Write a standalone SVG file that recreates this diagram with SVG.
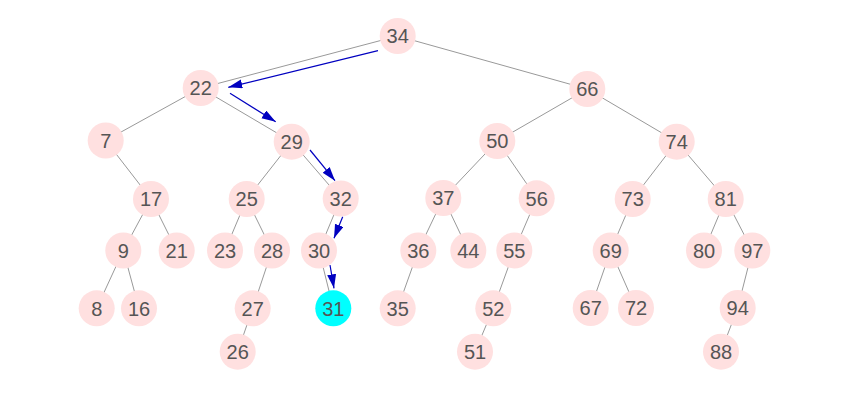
<svg xmlns="http://www.w3.org/2000/svg" width="852" height="415" viewBox="0 0 852 415">
<style>
.e{stroke:#999;stroke-width:1;fill:none}
.a{stroke:#0000c0;stroke-width:1.2;fill:none;marker-end:url(#ah)}
.n circle{fill:#ffe0e0}
.n text{font-family:"Liberation Sans",Arial,sans-serif;font-size:20px;fill:#555;text-anchor:middle}
#n31 circle{fill:#00ffff}
</style>
<defs>
<marker id="ah" markerUnits="userSpaceOnUse" markerWidth="15" markerHeight="10" refX="14" refY="4.5" orient="auto">
<path d="M0,0 L14,4.5 L0,9 z" fill="#0000c0"/>
</marker>
</defs>
<rect width="852" height="415" fill="#fff"/>
<g id="edges">
<line class="e" x1="397.7" y1="36" x2="200.7" y2="88"/>
<line class="e" x1="397.7" y1="36" x2="587.3" y2="89"/>
<line class="e" x1="200.7" y1="88" x2="105.7" y2="140.5"/>
<line class="e" x1="200.7" y1="88" x2="291.7" y2="141.7"/>
<line class="e" x1="105.7" y1="140.5" x2="151" y2="199"/>
<line class="e" x1="151" y1="199" x2="123.3" y2="250.5"/>
<line class="e" x1="151" y1="199" x2="176.7" y2="250.5"/>
<line class="e" x1="123.3" y1="250.5" x2="96.7" y2="308.3"/>
<line class="e" x1="123.3" y1="250.5" x2="139" y2="308.3"/>
<line class="e" x1="291.7" y1="141.7" x2="246.7" y2="199"/>
<line class="e" x1="291.7" y1="141.7" x2="340.7" y2="198.5"/>
<line class="e" x1="246.7" y1="199" x2="225" y2="250.5"/>
<line class="e" x1="246.7" y1="199" x2="272" y2="250.5"/>
<line class="e" x1="272" y1="250.5" x2="252.7" y2="308.3"/>
<line class="e" x1="252.7" y1="308.3" x2="237.7" y2="351.7"/>
<line class="e" x1="340.7" y1="198.5" x2="319" y2="250.5"/>
<line class="e" x1="319" y1="250.5" x2="333.3" y2="308.3"/>
<line class="e" x1="587.3" y1="89" x2="497.3" y2="141"/>
<line class="e" x1="587.3" y1="89" x2="676.7" y2="141.7"/>
<line class="e" x1="497.3" y1="141" x2="443.3" y2="198"/>
<line class="e" x1="497.3" y1="141" x2="536.7" y2="198.3"/>
<line class="e" x1="443.3" y1="198" x2="418.3" y2="250.5"/>
<line class="e" x1="443.3" y1="198" x2="468.3" y2="250.5"/>
<line class="e" x1="418.3" y1="250.5" x2="397.7" y2="308.3"/>
<line class="e" x1="536.7" y1="198.3" x2="514.3" y2="250.5"/>
<line class="e" x1="514.3" y1="250.5" x2="493.3" y2="308.3"/>
<line class="e" x1="493.3" y1="308.3" x2="475" y2="351.7"/>
<line class="e" x1="676.7" y1="141.7" x2="632.7" y2="199"/>
<line class="e" x1="676.7" y1="141.7" x2="725.7" y2="199"/>
<line class="e" x1="632.7" y1="199" x2="610.7" y2="250.5"/>
<line class="e" x1="610.7" y1="250.5" x2="590.7" y2="308"/>
<line class="e" x1="610.7" y1="250.5" x2="636" y2="308"/>
<line class="e" x1="725.7" y1="199" x2="704" y2="250.5"/>
<line class="e" x1="725.7" y1="199" x2="752.3" y2="250.5"/>
<line class="e" x1="752.3" y1="250.5" x2="737.7" y2="308"/>
<line class="e" x1="737.7" y1="308" x2="721" y2="351.7"/>
</g>
<g id="path-arrows">
<line class="a" x1="378" y1="50.7" x2="228.3" y2="87.3"/>
<line class="a" x1="230" y1="93.3" x2="275.7" y2="121.7"/>
<line class="a" x1="310" y1="150" x2="335" y2="180.7"/>
<line class="a" x1="342.7" y1="216.7" x2="334" y2="238.3"/>
<line class="a" x1="330" y1="265" x2="334" y2="288.3"/>
</g>
<g id="n34" class="n"><circle cx="397.7" cy="36" r="18"/><text x="397.7" y="43.2">34</text></g>
<g id="n22" class="n"><circle cx="200.7" cy="88" r="18"/><text x="200.7" y="95.2">22</text></g>
<g id="n66" class="n"><circle cx="587.3" cy="89" r="18"/><text x="587.3" y="96.2">66</text></g>
<g id="n7" class="n"><circle cx="105.7" cy="140.5" r="18"/><text x="105.7" y="147.7">7</text></g>
<g id="n29" class="n"><circle cx="291.7" cy="141.7" r="18"/><text x="291.7" y="148.9">29</text></g>
<g id="n50" class="n"><circle cx="497.3" cy="141" r="18"/><text x="497.3" y="148.2">50</text></g>
<g id="n74" class="n"><circle cx="676.7" cy="141.7" r="18"/><text x="676.7" y="148.9">74</text></g>
<g id="n17" class="n"><circle cx="151" cy="199" r="18"/><text x="151" y="206.2">17</text></g>
<g id="n25" class="n"><circle cx="246.7" cy="199" r="18"/><text x="246.7" y="206.2">25</text></g>
<g id="n32" class="n"><circle cx="340.7" cy="198.5" r="18"/><text x="340.7" y="205.7">32</text></g>
<g id="n37" class="n"><circle cx="443.3" cy="198" r="18"/><text x="443.3" y="205.2">37</text></g>
<g id="n56" class="n"><circle cx="536.7" cy="198.3" r="18"/><text x="536.7" y="205.5">56</text></g>
<g id="n73" class="n"><circle cx="632.7" cy="199" r="18"/><text x="632.7" y="206.2">73</text></g>
<g id="n81" class="n"><circle cx="725.7" cy="199" r="18"/><text x="725.7" y="206.2">81</text></g>
<g id="n9" class="n"><circle cx="123.3" cy="250.5" r="18"/><text x="123.3" y="257.7">9</text></g>
<g id="n21" class="n"><circle cx="176.7" cy="250.5" r="18"/><text x="176.7" y="257.7">21</text></g>
<g id="n23" class="n"><circle cx="225" cy="250.5" r="18"/><text x="225" y="257.7">23</text></g>
<g id="n28" class="n"><circle cx="272" cy="250.5" r="18"/><text x="272" y="257.7">28</text></g>
<g id="n30" class="n"><circle cx="319" cy="250.5" r="18"/><text x="319" y="257.7">30</text></g>
<g id="n36" class="n"><circle cx="418.3" cy="250.5" r="18"/><text x="418.3" y="257.7">36</text></g>
<g id="n44" class="n"><circle cx="468.3" cy="250.5" r="18"/><text x="468.3" y="257.7">44</text></g>
<g id="n55" class="n"><circle cx="514.3" cy="250.5" r="18"/><text x="514.3" y="257.7">55</text></g>
<g id="n69" class="n"><circle cx="610.7" cy="250.5" r="18"/><text x="610.7" y="257.7">69</text></g>
<g id="n80" class="n"><circle cx="704" cy="250.5" r="18"/><text x="704" y="257.7">80</text></g>
<g id="n97" class="n"><circle cx="752.3" cy="250.5" r="18"/><text x="752.3" y="257.7">97</text></g>
<g id="n8" class="n"><circle cx="96.7" cy="308.3" r="18"/><text x="96.7" y="315.5">8</text></g>
<g id="n16" class="n"><circle cx="139" cy="308.3" r="18"/><text x="139" y="315.5">16</text></g>
<g id="n27" class="n"><circle cx="252.7" cy="308.3" r="18"/><text x="252.7" y="315.5">27</text></g>
<g id="n31" class="n"><circle cx="333.3" cy="308.3" r="18"/><text x="333.3" y="315.5">31</text></g>
<g id="n35" class="n"><circle cx="397.7" cy="308.3" r="18"/><text x="397.7" y="315.5">35</text></g>
<g id="n52" class="n"><circle cx="493.3" cy="308.3" r="18"/><text x="493.3" y="315.5">52</text></g>
<g id="n67" class="n"><circle cx="590.7" cy="308" r="18"/><text x="590.7" y="315.2">67</text></g>
<g id="n72" class="n"><circle cx="636" cy="308" r="18"/><text x="636" y="315.2">72</text></g>
<g id="n94" class="n"><circle cx="737.7" cy="308" r="18"/><text x="737.7" y="315.2">94</text></g>
<g id="n26" class="n"><circle cx="237.7" cy="351.7" r="18"/><text x="237.7" y="358.9">26</text></g>
<g id="n51" class="n"><circle cx="475" cy="351.7" r="18"/><text x="475" y="358.9">51</text></g>
<g id="n88" class="n"><circle cx="721" cy="351.7" r="18"/><text x="721" y="358.9">88</text></g>
</svg>
